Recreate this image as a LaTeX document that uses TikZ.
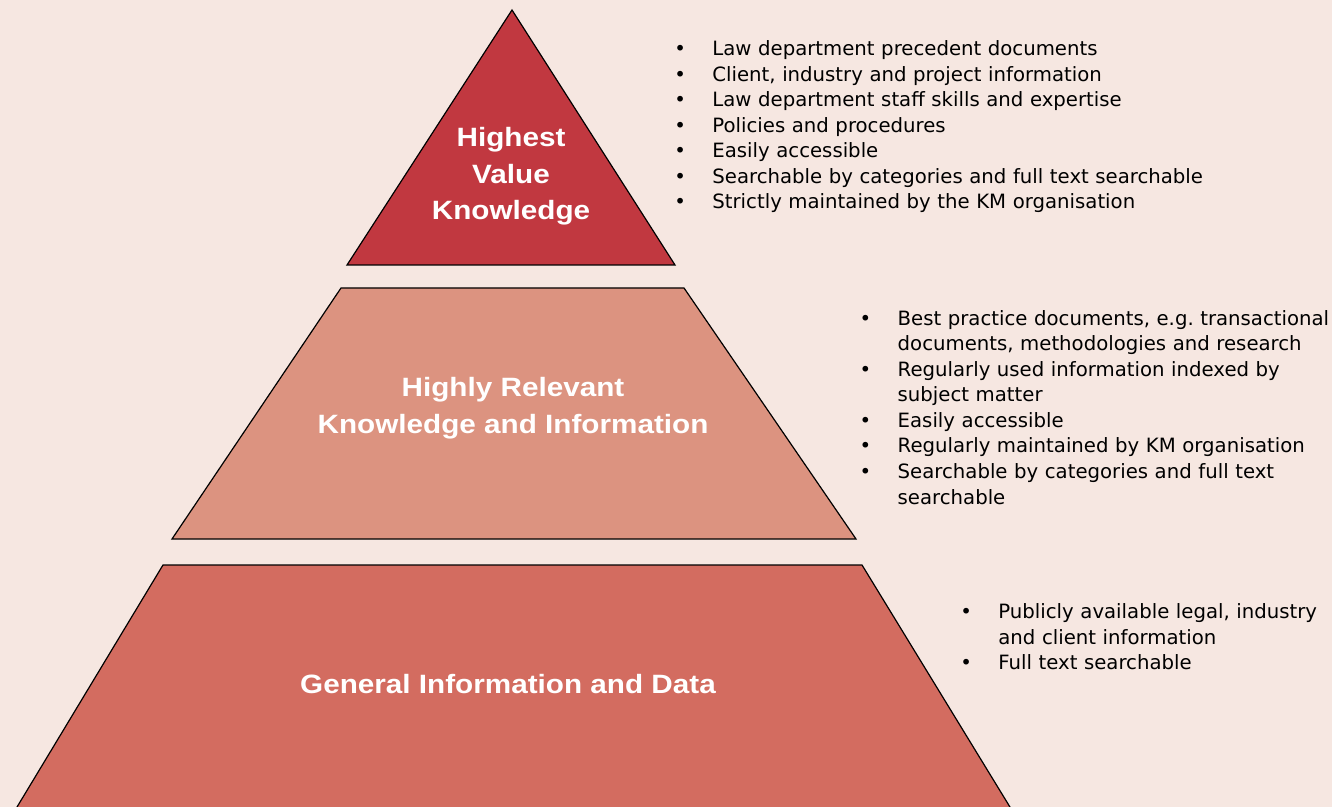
\documentclass[tikz,border=0pt]{standalone}
\usepackage{fontspec}
\setmainfont{DejaVu Sans}
\newfontfamily\lblfont[FakeStretch=1.12]{Liberation Sans}
\usetikzlibrary{positioning}

\definecolor{kmbg}{RGB}{246,231,225}
\definecolor{kmtop}{RGB}{193,56,64}
\definecolor{kmmid}{RGB}{220,147,128}
\definecolor{kmbot}{RGB}{211,108,96}

\newlength{\bind}
\setlength{\bind}{19pt}
\newcommand{\bitem}[1]{\hangindent=\bind\noindent\makebox[\bind][l]{\textbullet}#1\par}

\tikzset{
  tier/.style={draw=black, line width=0.6pt, line join=miter},
  tlbl/.style={text=white, align=center, inner sep=0pt,
               font=\lblfont\bfseries\fontsize{13.25}{18.25}\selectfont},
  blist/.style={anchor=base west, inner sep=0pt, text width=300pt, align=left,
                font=\fontsize{9.85}{12.75}\selectfont\frenchspacing},
}

\begin{document}
\begin{tikzpicture}[x=0.5pt, y=-0.5pt]
  \useasboundingbox (0,0) rectangle (1332,807);
  \fill[kmbg] (0,0) rectangle (1332,807);

  % pyramid tiers
  \begin{scope}
    \clip (0,0) rectangle (1332,807);
    \filldraw[tier, fill=kmtop] (512,10) -- (675,265) -- (347,265) -- cycle;
    \filldraw[tier, fill=kmmid] (341,288) -- (684,288) -- (856,539) -- (172,539) -- cycle;
    \filldraw[tier, fill=kmbot] (163,565) -- (862,565) -- (1013,812) -- (14,812) -- cycle;
  \end{scope}

  \node[tlbl] (top) at (511,176.7) {Highest\\Value\\Knowledge};
  \node[tlbl] (mid) at (513,408) {Highly Relevant\\Knowledge and Information};
  \node[tlbl, anchor=base] (bot) at (508,693) {General Information and Data};

  % bullet lists beside each tier
  \node[blist] (topl) at (674,55.7) {%
    \bitem{Law department precedent documents}%
    \bitem{Client, industry and project information}%
    \bitem{Law department staff skills and expertise}%
    \bitem{Policies and procedures}%
    \bitem{Easily accessible}%
    \bitem{Searchable by categories and full text searchable}%
    \bitem{Strictly maintained by the KM organisation}};
  \node[blist] (midl) at (859.3,325.5) {%
    \bitem{Best practice documents, e.g. transactional\newline documents, methodologies and research}%
    \bitem{Regularly used information indexed by\newline subject matter}%
    \bitem{Easily accessible}%
    \bitem{Regularly maintained by KM organisation}%
    \bitem{Searchable by categories and full text\newline searchable}};
  \node[blist] (botl) at (960,618.5) {%
    \bitem{Publicly available legal, industry\newline and client information}%
    \bitem{Full text searchable}};
\end{tikzpicture}
\end{document}
